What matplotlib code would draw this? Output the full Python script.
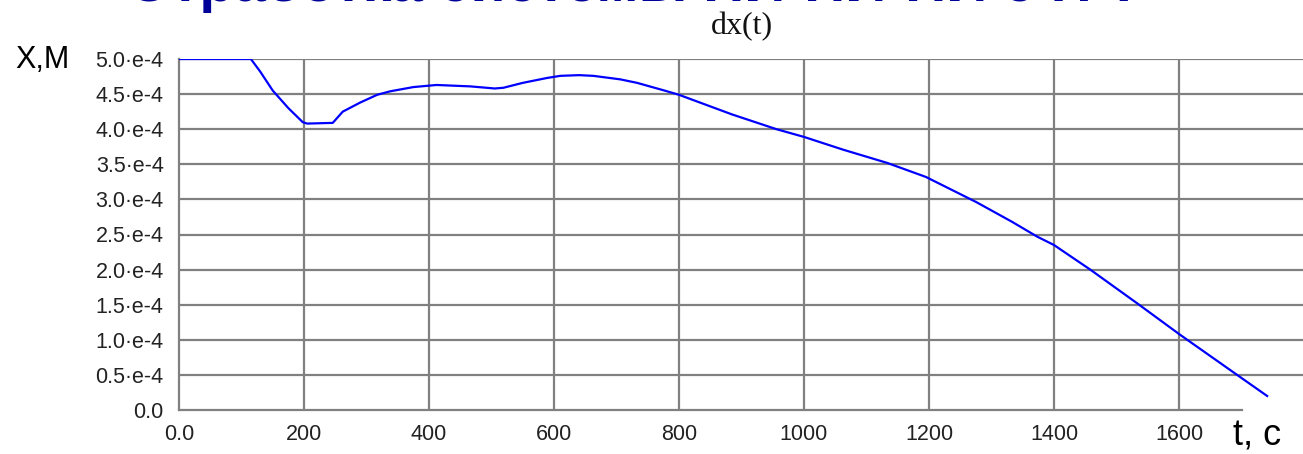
import matplotlib
matplotlib.use("Agg")
import matplotlib.pyplot as plt

# Data (time in s, displacement in units of 1e-4 m)
t_vals = [0, 115, 130, 150, 175, 198, 205, 246, 262, 290, 317, 338, 375, 412, 466,
          505, 519, 550, 589, 610, 640, 663, 706, 733, 777, 800, 885, 956, 1000,
          1062, 1133, 1195, 1276, 1333, 1373, 1400, 1458, 1533, 1602, 1693, 1741]
dx_e4 = [5.00, 5.00, 4.82, 4.55, 4.30, 4.10, 4.08, 4.09, 4.25, 4.38, 4.49, 4.54, 4.60, 4.63, 4.61,
         4.58, 4.59, 4.66, 4.73, 4.76, 4.77, 4.76, 4.71, 4.66, 4.55, 4.49, 4.21, 4.00, 3.89,
         3.71, 3.52, 3.32, 2.96, 2.68, 2.47, 2.35, 2.00, 1.52, 1.07, 0.50, 0.20]
dx = [v * 1e-4 for v in dx_e4]

x_ticks = [0, 200, 400, 600, 800, 1000, 1200, 1400, 1600]
x_labels = ["0.0", "200", "400", "600", "800", "1000", "1200", "1400", "1600"]
y_ticks = [i * 0.5e-4 for i in range(11)]
y_labels = ["0.0", "0.5·e-4", "1.0·e-4", "1.5·e-4", "2.0·e-4", "2.5·e-4",
            "3.0·e-4", "3.5·e-4", "4.0·e-4", "4.5·e-4", "5.0·e-4"]

W, H = 1303, 454
fig = plt.figure(figsize=(W / 100, H / 100), dpi=100)
fig.patch.set_facecolor("white")

left, right, top, bottom = 179, 1303, 59, 410
ax = fig.add_axes([left / W, (H - bottom) / H, (right - left) / W, (bottom - top) / H])
xmax = (right - left) / 0.625
ax.set_xlim(0, xmax)
ax.set_ylim(0, 5.0e-4)

gcol = "#808080"
ax.hlines(y_ticks[1:], 0, xmax, colors=gcol, linewidth=1.6, zorder=1)
ax.vlines(x_ticks[1:], 0, 5.0e-4, colors=gcol, linewidth=1.6, zorder=1)

ax.plot(t_vals, dx, color="#0000ff", linewidth=1.6, zorder=3)

for s in ["top", "right"]:
    ax.spines[s].set_visible(False)
for s in ["left", "bottom"]:
    ax.spines[s].set_color(gcol)
    ax.spines[s].set_linewidth(1.6)
ax.spines["bottom"].set_bounds(0, (1242 - left) / 0.625)

tick_font = dict(family=["Liberation Sans", "DejaVu Sans"], size=15.5, color="#222222")
ax.set_xticks(x_ticks)
ax.set_xticklabels(x_labels, **tick_font)
ax.set_yticks(y_ticks)
ax.set_yticklabels(y_labels, **tick_font)
ax.tick_params(axis="both", length=0)
ax.tick_params(axis="y", pad=11)
ax.tick_params(axis="x", pad=10)

# Title
fig.text(742 / W, 1 - 27 / H, "dx(t)", ha="center", va="center",
         family=["Liberation Serif", "DejaVu Serif"], size=23, color="#111111")

# Axis labels
fig.text(15 / W, 1 - 60 / H, "Х,М", ha="left", va="center",
         family=["Liberation Sans", "DejaVu Sans"], size=22, color="black")
fig.text(1233 / W, 1 - 436 / H, "t, с", ha="left", va="center",
         family=["Liberation Sans", "DejaVu Sans"], size=26, color="black")

# Clipped slide heading at top edge (only its lowest pixels are visible)
fig.text(127 / W, 1 - 1 / H, "Отработка системы ПИ-ПИ-ПИ с ПЧ", ha="left",
         va="baseline", family=["Liberation Sans", "DejaVu Sans"], size=41,
         weight="bold", color="#000099")

fig.savefig("out.png", dpi=100, facecolor="white")
